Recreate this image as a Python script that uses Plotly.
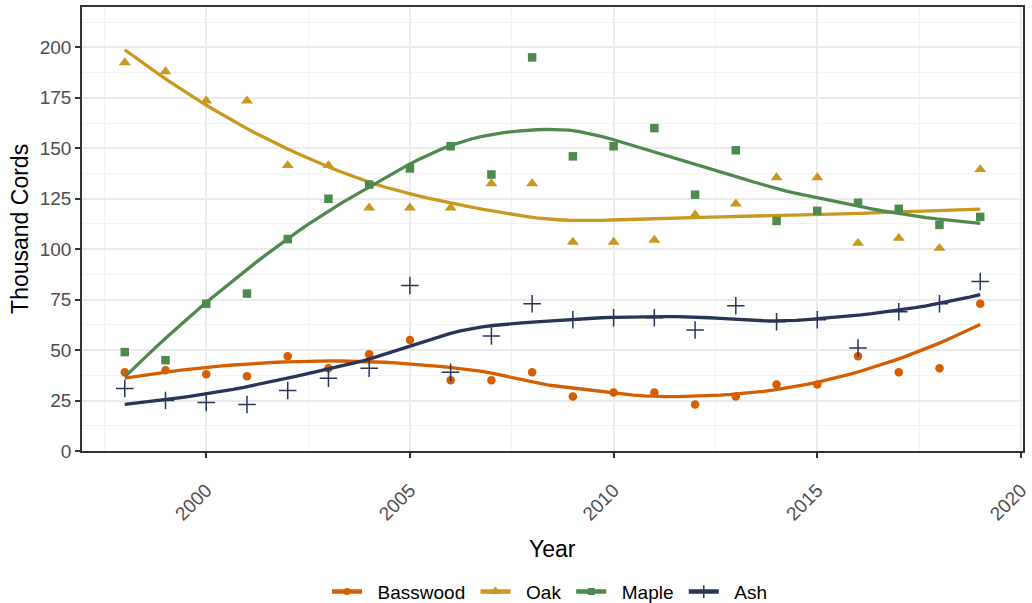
import numpy as np
import plotly.graph_objects as go

# Annual harvest by species, thousand cords
years = list(range(1998, 2020))
basswood = [39, 40, 38, 37, 47, 41, 48, 55, 35, 35, 39, 27, 29, 29, 23, 27, 33, 33, 47, 39, 41, 73]
oak = [192.5, 188, 173.5, 173.5, 141.5, 141.5, 120.5, 120.5, 120.5, 132.5, 132.5, 103.5,
       103.5, 104.5, 117, 122.5, 135.5, 135.5, 103, 105.5, 100.5, 139.5]
maple = [49, 45, 73, 78, 105, 125, 132, 140, 151, 137, 195, 146, 151, 160, 127, 149,
         114, 119, 123, 120, 112, 116]
ash = [31, 25, 24, 23, 30, 36, 41, 82, 39, 57, 73, 65, 66, 66, 60, 72, 64, 65, 51, 69, 73, 84]

species = ["Basswood", "Oak", "Maple", "Ash"]
colors = {"Basswood": "#D55E00", "Oak": "#C9981D", "Maple": "#4E8A4E", "Ash": "#28345A"}
symbols = {"Basswood": "circle", "Oak": "triangle-up", "Maple": "square", "Ash": "cross-thin"}
sizes = {"Basswood": 8.5, "Oak": 10.5, "Maple": 8.5, "Ash": 12.5}
legend_sizes = {"Basswood": 7, "Oak": 10, "Maple": 7, "Ash": 9}
values = {"Basswood": basswood, "Oak": oak, "Maple": maple, "Ash": ash}

y_ticks = [0, 25, 50, 75, 100, 125, 150, 175, 200]
x_ticks = [2000, 2005, 2010, 2015, 2020]


def local_fit(x, y, x0, span=0.75):
    """Local quadratic fit with tricube weights; returns value and slope at x0."""
    n = len(x)
    q = int(np.floor(n * span))
    d = np.abs(x - x0)
    h = np.sort(d)[q - 1]
    w = np.clip(1 - (d / h) ** 3, 0, None) ** 3
    X = np.vstack([np.ones(n), x - x0, (x - x0) ** 2]).T
    XtW = X.T * w
    beta = np.linalg.solve(XtW @ X, XtW @ y)
    return beta[0], beta[1]


def kd_vertices(x, cell_max=3):
    """Split points at medians until each cell holds few points; return cut values."""
    cuts = []

    def split(p):
        if len(p) <= cell_max:
            return
        m = (len(p) - 1) // 2
        cuts.append((p[m] + p[m + 1]) / 2)
        split(p[:m + 1])
        split(p[m + 1:])

    split(sorted(x))
    pad = 0.005 * (max(x) - min(x))
    return np.array(sorted([min(x) - pad] + cuts + [max(x) + pad]))


def loess(x, y, grid, span=0.75):
    """Loess curve: local fits at cell vertices joined by cubic Hermite pieces."""
    x = np.asarray(x, float)
    y = np.asarray(y, float)
    cell_max = int(np.floor(len(x) * span * 0.2))
    verts = kd_vertices(x, cell_max)
    fits = [local_fit(x, y, v, span) for v in verts]
    vals = np.array([f[0] for f in fits])
    slopes = np.array([f[1] for f in fits])
    out = []
    for g in grid:
        i = min(max(np.searchsorted(verts, g) - 1, 0), len(verts) - 2)
        x0, x1 = verts[i], verts[i + 1]
        hh = x1 - x0
        t = (g - x0) / hh
        h00 = 2 * t**3 - 3 * t**2 + 1
        h10 = t**3 - 2 * t**2 + t
        h01 = -2 * t**3 + 3 * t**2
        h11 = t**3 - t**2
        out.append(h00 * vals[i] + h10 * hh * slopes[i] + h01 * vals[i + 1] + h11 * hh * slopes[i + 1])
    return np.array(out)


grid = np.linspace(min(years), max(years), 80)

fig = go.Figure()
FONT = "Liberation Sans, Arial, sans-serif"
NBSP = "\u00a0"

for sp in species:
    c = colors[sp]
    sym = symbols[sp]
    marker = dict(color=c, size=sizes[sp], symbol=sym)
    if sym == "cross-thin":
        marker["line"] = dict(color=c, width=1.5)
    fig.add_trace(go.Scatter(x=years, y=values[sp], mode="markers", marker=marker,
                             showlegend=False, hoverinfo="x+y", name=sp))
    fig.add_trace(go.Scatter(x=grid, y=loess(years, values[sp], grid), mode="lines",
                             line=dict(color=c, width=3.3), showlegend=False, name=sp))
    legend_marker = dict(color=c, size=legend_sizes[sp], symbol=sym)
    if sym == "cross-thin":
        legend_marker["line"] = dict(color=c, width=1.5)
    fig.add_trace(go.Scatter(x=[None], y=[None], mode="lines+markers",
                             name=NBSP * 2 + sp + NBSP,
                             line=dict(color=c, width=4.5), marker=legend_marker))

axis_common = dict(
    showline=True, linecolor="#333333", linewidth=1.5, mirror=True,
    ticks="outside", ticklen=5, tickwidth=1.5, tickcolor="#333333",
    tickfont=dict(family=FONT, size=19, color="#4D4D4D"),
    showgrid=True, gridcolor="#EBEBEB", gridwidth=1.6, zeroline=False,
)

fig.update_xaxes(
    range=[1996.95, 2020.05], tickvals=x_ticks, ticktext=[str(v) for v in x_ticks],
    tickangle=-45, ticklabelstandoff=14,
    minor=dict(showgrid=True, gridcolor="#F2F2F2", gridwidth=0.8, tick0=1997.5, dtick=5),
    **axis_common,
)
fig.update_yaxes(
    range=[0, 220], tickvals=y_ticks, ticktext=[str(v) for v in y_ticks],
    minor=dict(showgrid=True, gridcolor="#F2F2F2", gridwidth=0.8, tick0=12.5, dtick=25),
    **axis_common,
)

fig.update_layout(
    width=1032, height=603,
    margin=dict(l=82, r=9, t=7, b=152, autoexpand=False),
    paper_bgcolor="white", plot_bgcolor="white",
    font=dict(family=FONT, color="black"),
    legend=dict(orientation="h", x=0.5, xanchor="center", y=-0.317, yanchor="middle",
                font=dict(family=FONT, size=19, color="black"), itemwidth=30,
                bgcolor="rgba(0,0,0,0)"),
    annotations=[
        dict(text="Year", xref="paper", yref="paper", x=0.5, y=-0.22, yanchor="middle",
             showarrow=False, font=dict(family=FONT, size=23, color="black")),
        dict(text="Thousand Cords", xref="paper", yref="paper", x=-0.066, xanchor="center",
             y=0.5, yanchor="middle", textangle=-90, showarrow=False,
             font=dict(family=FONT, size=23, color="black")),
    ],
)

fig.write_html("out.html")
